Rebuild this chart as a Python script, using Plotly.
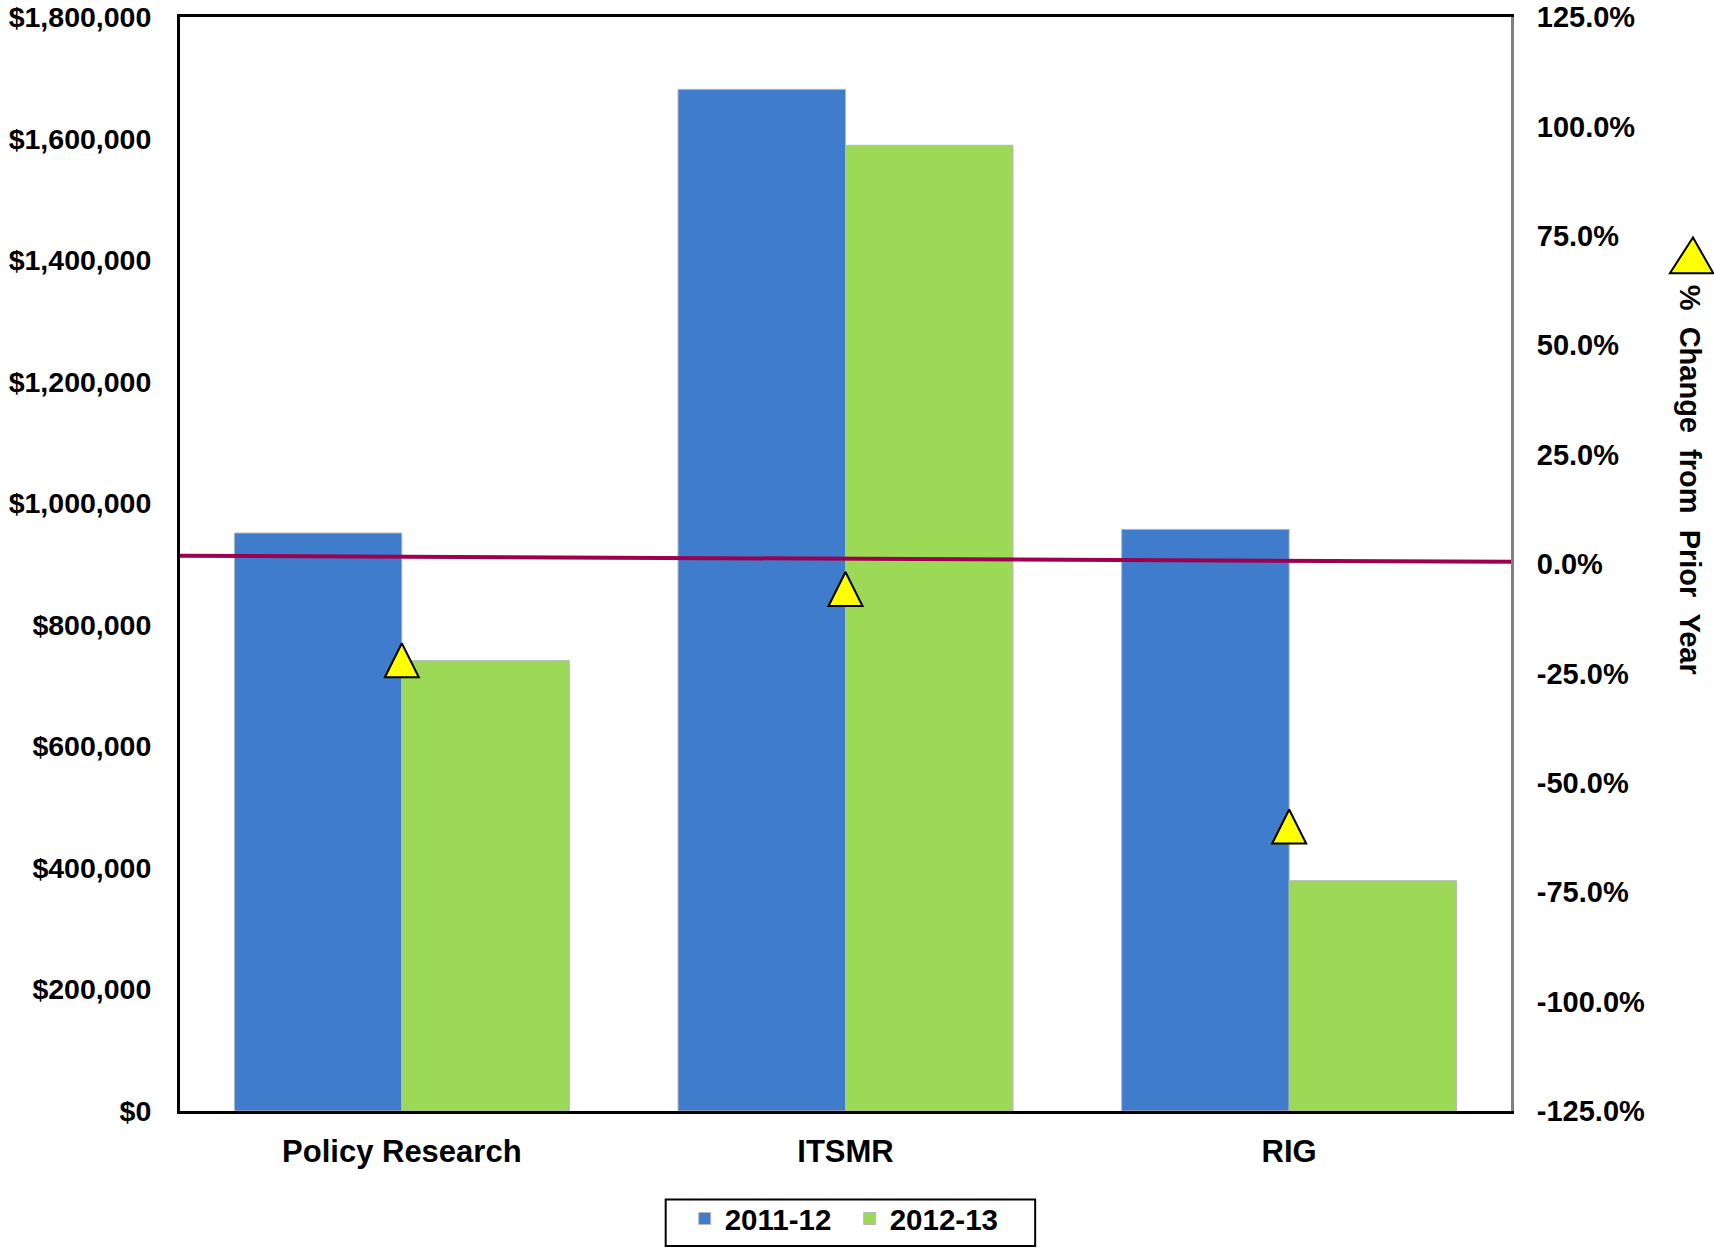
import plotly.graph_objects as go

categories = ["Policy Research", "ITSMR", "RIG"]
funding_2011_12 = [951000, 1681000, 957000]
funding_2012_13 = [741000, 1589000, 379000]
pct_change = [-22.0, -5.7, -60.0]
ref_line_pct = [1.9, 0.5]

left_ticks = [0, 200000, 400000, 600000, 800000, 1000000, 1200000, 1400000, 1600000, 1800000]
left_tick_text = ["$0", "$200,000", "$400,000", "$600,000", "$800,000", "$1,000,000",
                  "$1,200,000", "$1,400,000", "$1,600,000", "$1,800,000"]
right_ticks = [-125, -100, -75, -50, -25, 0, 25, 50, 75, 100, 125]
right_tick_text = ["-125.0%", "-100.0%", "-75.0%", "-50.0%", "-25.0%", "0.0%",
                   "25.0%", "50.0%", "75.0%", "100.0%", "125.0%"]

FONT = "Liberation Sans, Arial, sans-serif"
BLUE = "#3F7CCB"
GREEN = "#9BD957"


def bold(size):
    return dict(family=FONT, size=size, color="black", weight="bold")


fig = go.Figure()
fig.add_trace(go.Bar(
    x=categories, y=funding_2011_12, name="2011-12",
    marker=dict(color=BLUE, line=dict(color="#B8B8B8", width=1)),
))
fig.add_trace(go.Bar(
    x=categories, y=funding_2012_13, name="2012-13",
    marker=dict(color=GREEN, line=dict(color="#B8B8B8", width=1)),
))
fig.add_trace(go.Scatter(
    x=categories, y=pct_change, yaxis="y2", mode="markers", showlegend=False,
    marker=dict(symbol="arrow-down", angle=180, standoff=17, size=34,
                color="#FFFF00", line=dict(color="black", width=2)),
))

fig.add_shape(type="line", xref="paper", yref="y2", x0=0, x1=1,
              y0=ref_line_pct[0], y1=ref_line_pct[1],
              line=dict(color="#9E0050", width=4))

# legend icon for the triangle series
fig.add_shape(type="path", xref="paper", yref="paper",
              path="M 1.1367 0.7985 L 1.1194 0.7658 L 1.1520 0.7658 Z",
              fillcolor="#FFFF00", line=dict(color="black", width=2))

# legend frame
fig.add_shape(type="rect", xref="paper", yref="paper",
              x0=0.3649, x1=0.6425, y0=-0.1235, y1=-0.0810,
              line=dict(color="black", width=2), fillcolor="rgba(0,0,0,0)")

fig.add_annotation(xref="paper", yref="paper", x=1.1345, y=0.577,
                   text="% \u00a0Change \u00a0from \u00a0Prior \u00a0Year", textangle=90,
                   showarrow=False, font=bold(29),
                   xanchor="center", yanchor="middle")

fig.update_layout(
    width=1714, height=1250,
    margin=dict(l=180, r=203, t=17, b=139, autoexpand=False),
    paper_bgcolor="white", plot_bgcolor="white",
    barmode="group", bargap=0.245, bargroupgap=0,
    font=bold(28),
    showlegend=True,
    legend=dict(orientation="h", x=0.3792, xanchor="left", y=-0.0748, yanchor="top",
                borderwidth=0, bgcolor="rgba(0,0,0,0)",
                font=bold(29.5), valign="middle",
                itemwidth=30, tracegroupgap=0, entrywidth=120),
    xaxis=dict(showline=True, mirror=True, linecolor="black", linewidth=3,
               showgrid=False, ticks="", ticklabelstandoff=11, automargin=False,
               tickfont=bold(31)),
    yaxis=dict(range=[0, 1800000], tickvals=left_ticks, ticktext=left_tick_text,
               showline=True, linecolor="black", linewidth=3, showgrid=False,
               zeroline=False, ticks="", ticklabelstandoff=20, automargin=False,
               tickfont=bold(28.5)),
    yaxis2=dict(range=[-125, 125], tickvals=right_ticks, ticktext=right_tick_text,
                overlaying="y", side="right", showline=True, linecolor="#808080",
                linewidth=3, showgrid=False, zeroline=False, ticks="",
                ticklabelstandoff=17, automargin=False,
                tickfont=bold(29)),
)

fig.write_html("out.html", config={"displayModeBar": False},
               post_script="document.body.style.margin='0';document.body.style.overflow='hidden';")
